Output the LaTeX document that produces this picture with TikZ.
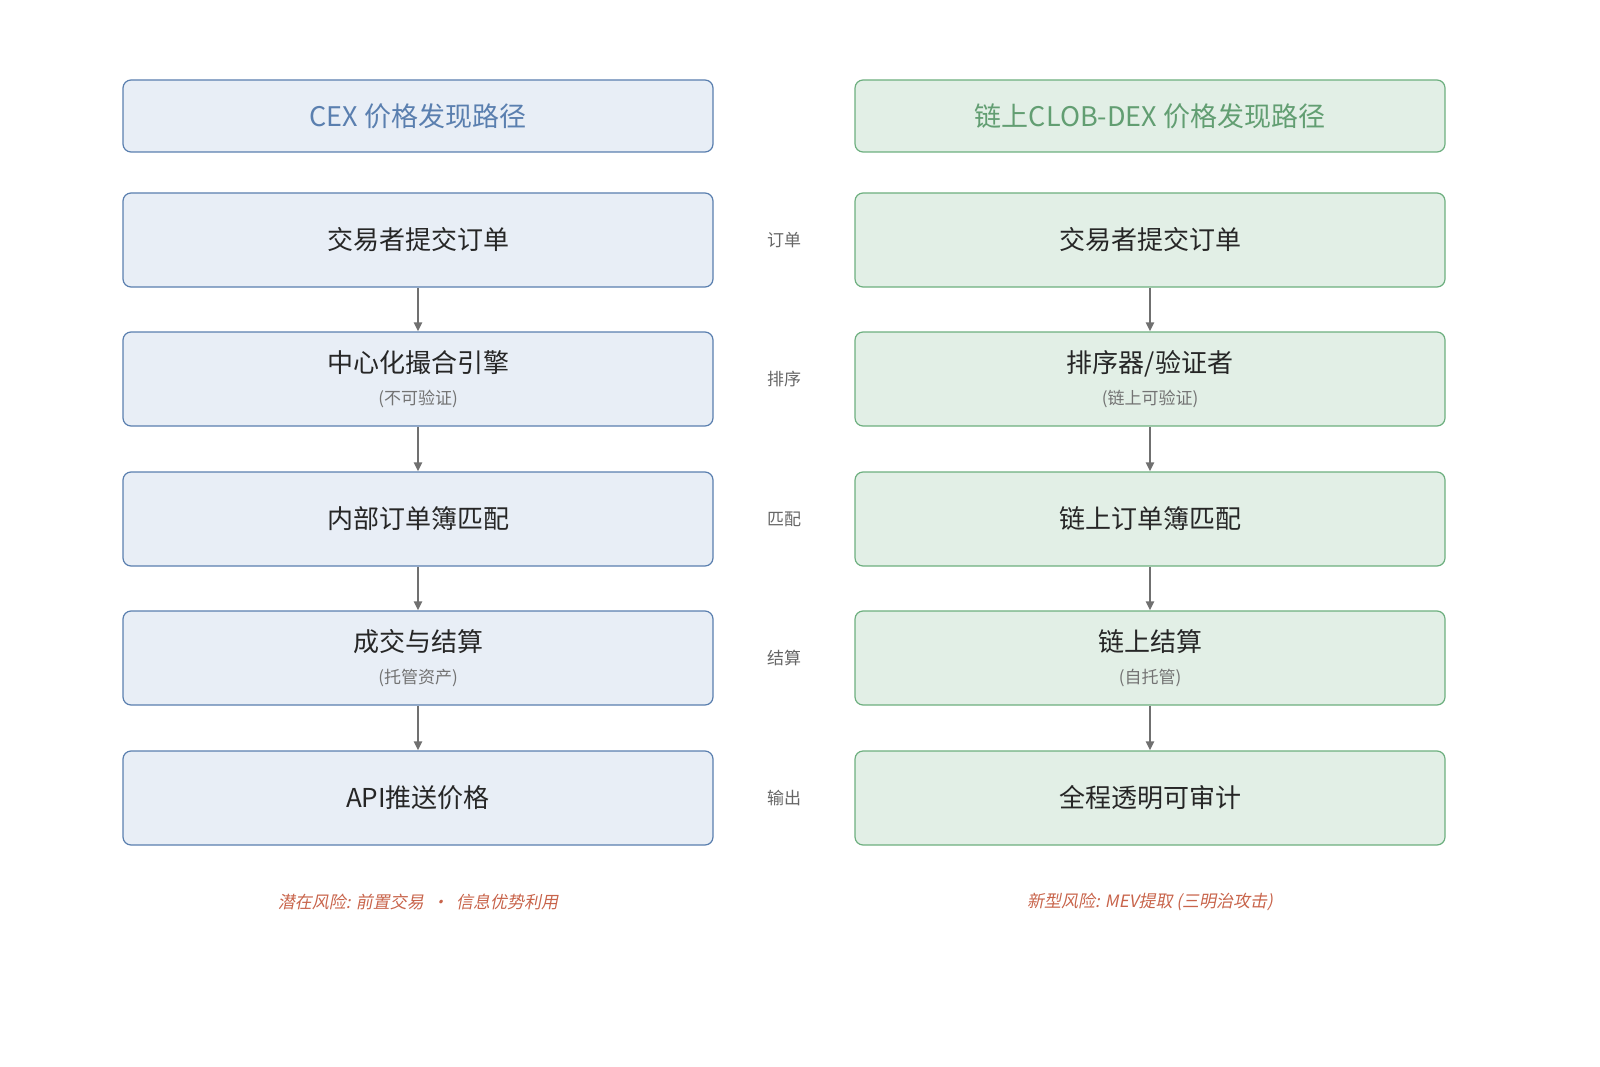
\documentclass[tikz,border=0pt]{standalone}
\usepackage{fontspec}
\usepackage{xcolor}
\usetikzlibrary{calc, positioning, arrows.meta}
\newfontfamily\cjk{Noto Sans CJK SC}
\newfontfamily\cjkit[FakeSlant=0.2]{Noto Sans CJK SC}
\definecolor{cexfill}{HTML}{E8EEF6}
\definecolor{cexline}{HTML}{5A7FAF}
\definecolor{dexfill}{HTML}{E2EFE6}
\definecolor{dexline}{HTML}{6DAF7F}
\definecolor{flow}{HTML}{707070}
\definecolor{risk}{HTML}{C8644B}
\tikzset{
  box/.style={draw, rounded corners=8pt, line width=1.2pt, minimum width=590pt, align=center, text=black!85},
  cex/.style={box, fill=cexfill, draw=cexline},
  dex/.style={box, fill=dexfill, draw=dexline},
  stage/.style={minimum height=94pt, font=\cjk\fontsize{26}{30}\selectfont},
  head/.style={minimum height=72pt, font=\cjk\fontsize{27}{30}\selectfont},
  sub/.style={font=\cjk\fontsize{17}{20}\selectfont, text=black!60},
  flowarrow/.style={-{Triangle[length=9pt,width=8pt]}, draw=flow, line width=2.4pt},
}
\newcommand{\twoline}[2]{#1\\[2pt]{\fontsize{17}{20}\selectfont\color{black!55}#2}}
\begin{document}
\begin{tikzpicture}[x=1pt,y=1pt]
\useasboundingbox (0,0) rectangle (1600,-1067);

\node[cex, head, text=cexline] (ltitle) at (418,-116) {CEX 价格发现路径};
\node[dex, head, text=dexline!90!black] (rtitle) at (1150,-116) {链上CLOB-DEX 价格发现路径};

\node[cex, stage] (l1) at (418,-240) {交易者提交订单};
\node[cex, stage] (l2) at (418,-379) {\twoline{中心化撮合引擎}{(不可验证)}};
\node[cex, stage] (l3) at (418,-519) {内部订单簿匹配};
\node[cex, stage] (l4) at (418,-658) {\twoline{成交与结算}{(托管资产)}};
\node[cex, stage] (l5) at (418,-798) {API推送价格};

\node[dex, stage] (r1) at (1150,-240) {交易者提交订单};
\node[dex, stage] (r2) at (1150,-379) {\twoline{排序器/验证者}{(链上可验证)}};
\node[dex, stage] (r3) at (1150,-519) {链上订单簿匹配};
\node[dex, stage] (r4) at (1150,-658) {\twoline{链上结算}{(自托管)}};
\node[dex, stage] (r5) at (1150,-798) {全程透明可审计};

\node[sub] (m1) at (784,-240) {订单};
\node[sub] (m2) at (784,-379) {排序};
\node[sub] (m3) at (784,-519) {匹配};
\node[sub] (m4) at (784,-658) {结算};
\node[sub] (m5) at (784,-798) {输出};

\foreach \a/\b in {1/2,2/3,3/4,4/5}{
  \draw[flowarrow] (l\a) -- (l\b);
  \draw[flowarrow] (r\a) -- (r\b);
}

\node[font=\cjkit\fontsize{17}{20}\selectfont, text=risk] (lrisk) at (418,-902) {潜在风险: 前置交易 \ · \ 信息优势利用};
\node[font=\cjkit\fontsize{17}{20}\selectfont, text=risk] (rrisk) at (1150,-902) {新型风险: MEV提取 (三明治攻击)};
\end{tikzpicture}
\end{document}
